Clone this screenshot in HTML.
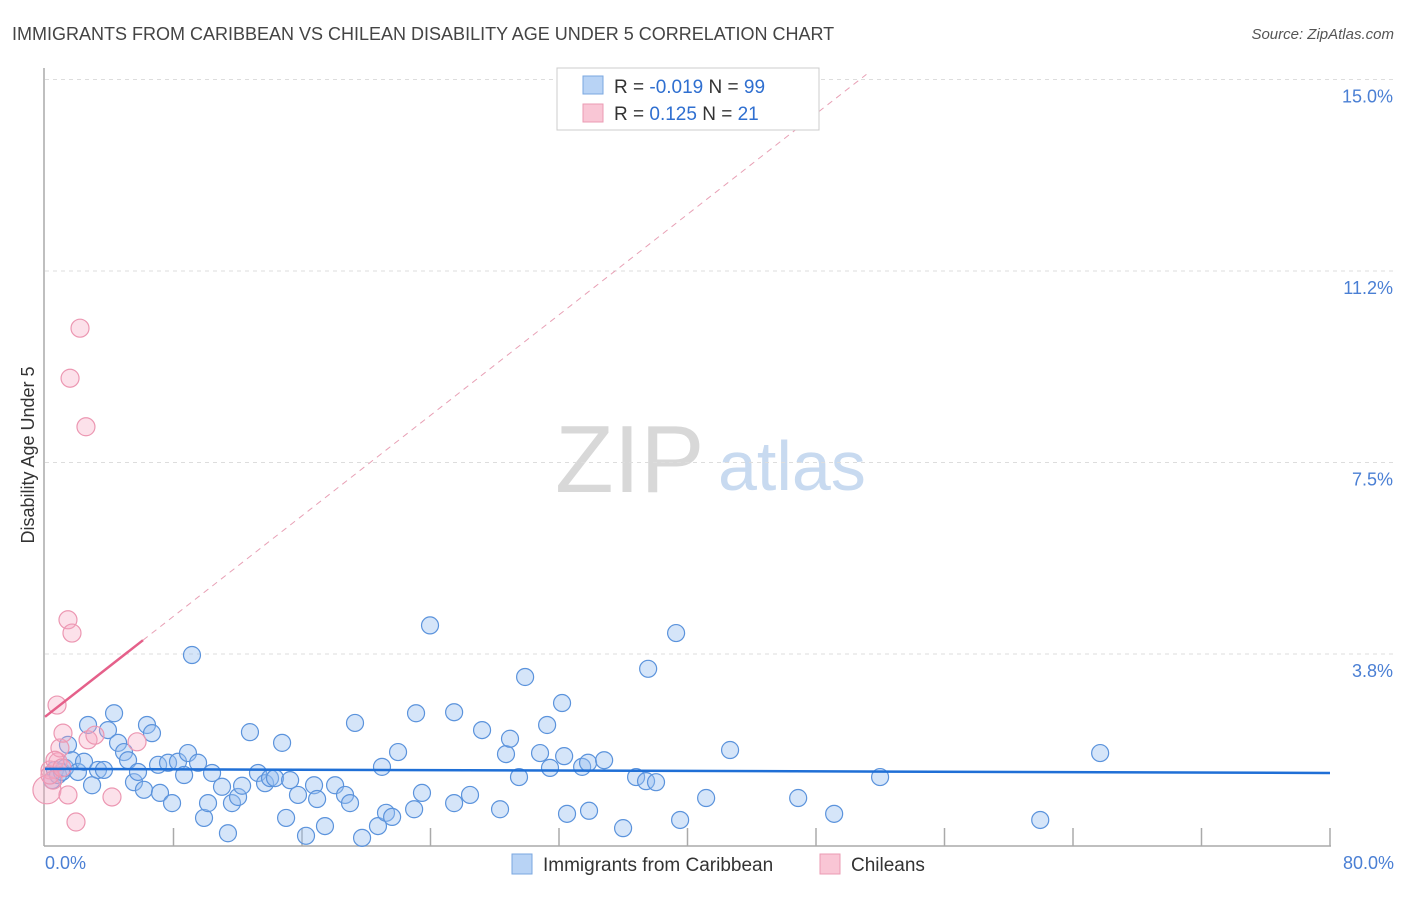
<!DOCTYPE html>
<html><head><meta charset="utf-8"><style>
body{margin:0;background:#fff;font-family:"Liberation Sans",sans-serif}
svg text{font-family:"Liberation Sans",sans-serif}
</style></head><body>
<svg id="c" width="1406" height="892" viewBox="0 0 1406 892">
<text x="12" y="40" font-size="18" fill="#444">IMMIGRANTS FROM CARIBBEAN VS CHILEAN DISABILITY AGE UNDER 5 CORRELATION CHART</text>
<text x="1394" y="39" font-size="15" fill="#555" text-anchor="end" font-style="italic">Source: ZipAtlas.com</text>
<text x="555" y="492" font-size="96" fill="#d8d8d8" font-family="Liberation Serif">ZIP</text>
<text x="718" y="490" font-size="70" fill="#c8daf0">atlas</text>
<g id="grid"></g>
<g id="axes"></g>
<g id="pts"></g>
<g id="trend"></g>
<text transform="translate(34,455) rotate(-90)" font-size="18" fill="#333" text-anchor="middle">Disability Age Under 5</text>
<text x="45" y="869" font-size="18" fill="#4a7fd4">0.0%</text>
<text x="1394" y="869" font-size="18" fill="#4a7fd4" text-anchor="end">80.0%</text>
<g>
<rect x="557" y="68" width="262" height="62" fill="#fff" stroke="#ccc"/>
<rect x="583" y="76" width="20" height="18" fill="#b8d3f5" stroke="#7aa7e0"/>
<rect x="583" y="104" width="20" height="18" fill="#f9c6d5" stroke="#eb9bb3"/>
<text x="614" y="93" font-size="19" fill="#333">R = <tspan fill="#2f6fd0">-0.019</tspan>   N = <tspan fill="#2f6fd0">99</tspan></text>
<text x="614" y="120" font-size="19" fill="#333">R =   <tspan fill="#2f6fd0">0.125</tspan>   N =  <tspan fill="#2f6fd0">21</tspan></text>
</g>
<g>
<rect x="512" y="854" width="20" height="20" fill="#b8d3f5" stroke="#7aa7e0"/>
<text x="543" y="871" font-size="19" fill="#333">Immigrants from Caribbean</text>
<rect x="820" y="854" width="20" height="20" fill="#f9c6d5" stroke="#eb9bb3"/>
<text x="851" y="871" font-size="19" fill="#333">Chileans</text>
</g>
</svg>
<script>
const yTicks=[3.75,7.5,11.25,15];
const yTickLabels=["3.8%","7.5%","11.2%","15.0%"];
const xTicks=[8,16,24,32,40,48,56,64,72,80];
const blueX=[0.44,0.62,0.81,1.06,1.25,1.43,1.68,2.05,2.43,2.68,2.93,3.30,3.67,3.92,4.30,4.55,4.92,5.17,5.54,5.79,6.16,6.35,6.66,7.04,7.16,7.66,7.91,8.28,8.66,8.90,9.15,9.53,9.90,10.15,10.40,11.02,11.39,11.64,12.02,12.27,12.76,13.26,13.70,14.01,14.32,14.76,15.01,15.26,15.75,16.25,16.75,16.94,17.43,18.06,18.68,18.99,19.30,19.74,20.73,20.98,21.23,21.61,21.98,22.98,23.10,23.47,23.97,25.47,25.47,26.46,27.21,28.33,28.70,28.95,29.51,29.89,30.82,31.26,31.44,32.19,32.32,32.50,33.44,33.81,33.87,34.81,35.99,36.80,37.42,37.55,38.04,39.29,39.54,41.16,42.65,46.89,49.13,51.99,61.96,65.69];
const blueY=[1.28,1.48,1.38,1.44,1.52,1.97,1.67,1.44,1.64,2.36,1.18,1.48,1.48,2.26,2.59,2.01,1.83,1.67,1.24,1.44,1.09,2.36,2.20,1.58,1.03,1.62,0.83,1.64,1.38,1.81,3.73,1.62,0.54,0.83,1.42,1.15,0.24,0.83,0.95,1.17,2.22,1.42,1.22,1.32,1.32,2.01,0.54,1.28,0.99,0.19,1.18,0.91,0.38,1.18,0.99,0.83,2.40,0.15,0.38,1.54,0.64,0.56,1.83,0.71,2.59,1.03,4.31,0.83,2.61,0.99,2.26,0.71,1.79,2.09,1.34,3.30,1.81,2.36,1.52,2.79,1.75,0.62,1.54,1.62,0.68,1.67,0.34,1.34,1.26,3.46,1.24,4.16,0.50,0.93,1.87,0.93,0.62,1.34,0.50,1.81];
const pinkX=[0.12,0.31,0.50,0.75,0.81,0.93,1.12,1.43,1.56,2.18,2.55,1.43,1.68,2.68,3.11,4.17,5.73,1.93,0.31,0.62,1.06];
const pinkY=[1.09,1.48,1.28,2.75,1.64,1.91,2.20,0.99,9.15,10.13,8.20,4.42,4.16,2.07,2.16,0.95,2.03,0.46,1.38,1.67,1.52];
const pinkR=[14,9,9,9,9,9,9,9,9,9,9,9,9,9,9,9,9,9,9,9,9];
const blueTrend=[1.50,1.42];
const pinkIntercept=2.52, pinkSlope=0.246, pinkSolidEnd=6.1;
const NS="http://www.w3.org/2000/svg";
const X=v=>45+v*(1285/80), Y=v=>845.5-v*(191.5/3.75);
function mk(t,a,p){const e=document.createElementNS(NS,t);for(const k in a)e.setAttribute(k,a[k]);document.getElementById(p).appendChild(e);return e;}
yTicks.forEach((t,i)=>{
 const l=mk('line',{x1:45,x2:1394,y1:Y(t),y2:Y(t),stroke:'#ddd','stroke-dasharray':'4,4'},'grid');
 
 
 const tx=mk('text',{x:1393,y:Y(t)+23,'font-size':18,fill:'#4a7fd4','text-anchor':'end'},'grid');
 tx.textContent=yTickLabels[i];
 
 
});
const ya=mk('line',{x1:44,x2:44,y1:68,y2:846,stroke:'#aaa','stroke-width':1.5},'axes');


const xa=mk('line',{x1:44,x2:1331,y1:846,y2:846,stroke:'#aaa','stroke-width':1.5},'axes');


xTicks.forEach(t=>{
 const l=mk('line',{x1:X(t),x2:X(t),y1:828,y2:846,stroke:'#aaa','stroke-width':1.5},'axes');
 
 
});
blueX.forEach((v,i)=>{
 const c=mk('circle',{cx:X(v),cy:Y(blueY[i]),r:8.5,fill:'rgba(150,190,240,0.4)',stroke:'#5b93dc','stroke-width':1.2},'pts');
 
 
});
pinkX.forEach((v,i)=>{
 const c=mk('circle',{cx:X(v),cy:Y(pinkY[i]),r:pinkR[i],fill:'rgba(245,170,195,0.35)',stroke:'#ec97b2','stroke-width':1.2},'pts');
 
 
});
const bt=mk('line',{x1:X(0),y1:Y(blueTrend[0]),x2:X(80),y2:Y(blueTrend[1]),stroke:'#1f6fd6','stroke-width':2.5},'trend');


const pEnd=(15.1-pinkIntercept)/pinkSlope;
const pd=mk('line',{x1:X(pinkSolidEnd),y1:Y(pinkIntercept+pinkSlope*pinkSolidEnd),x2:X(pEnd),y2:Y(pinkIntercept+pinkSlope*pEnd),stroke:'#e8a0b5','stroke-width':1,'stroke-dasharray':'6,5'},'trend');


const ps=mk('line',{x1:X(0),y1:Y(pinkIntercept),x2:X(pinkSolidEnd),y2:Y(pinkIntercept+pinkSlope*pinkSolidEnd),stroke:'#e5608a','stroke-width':2.5},'trend');


</script>
</body></html>
